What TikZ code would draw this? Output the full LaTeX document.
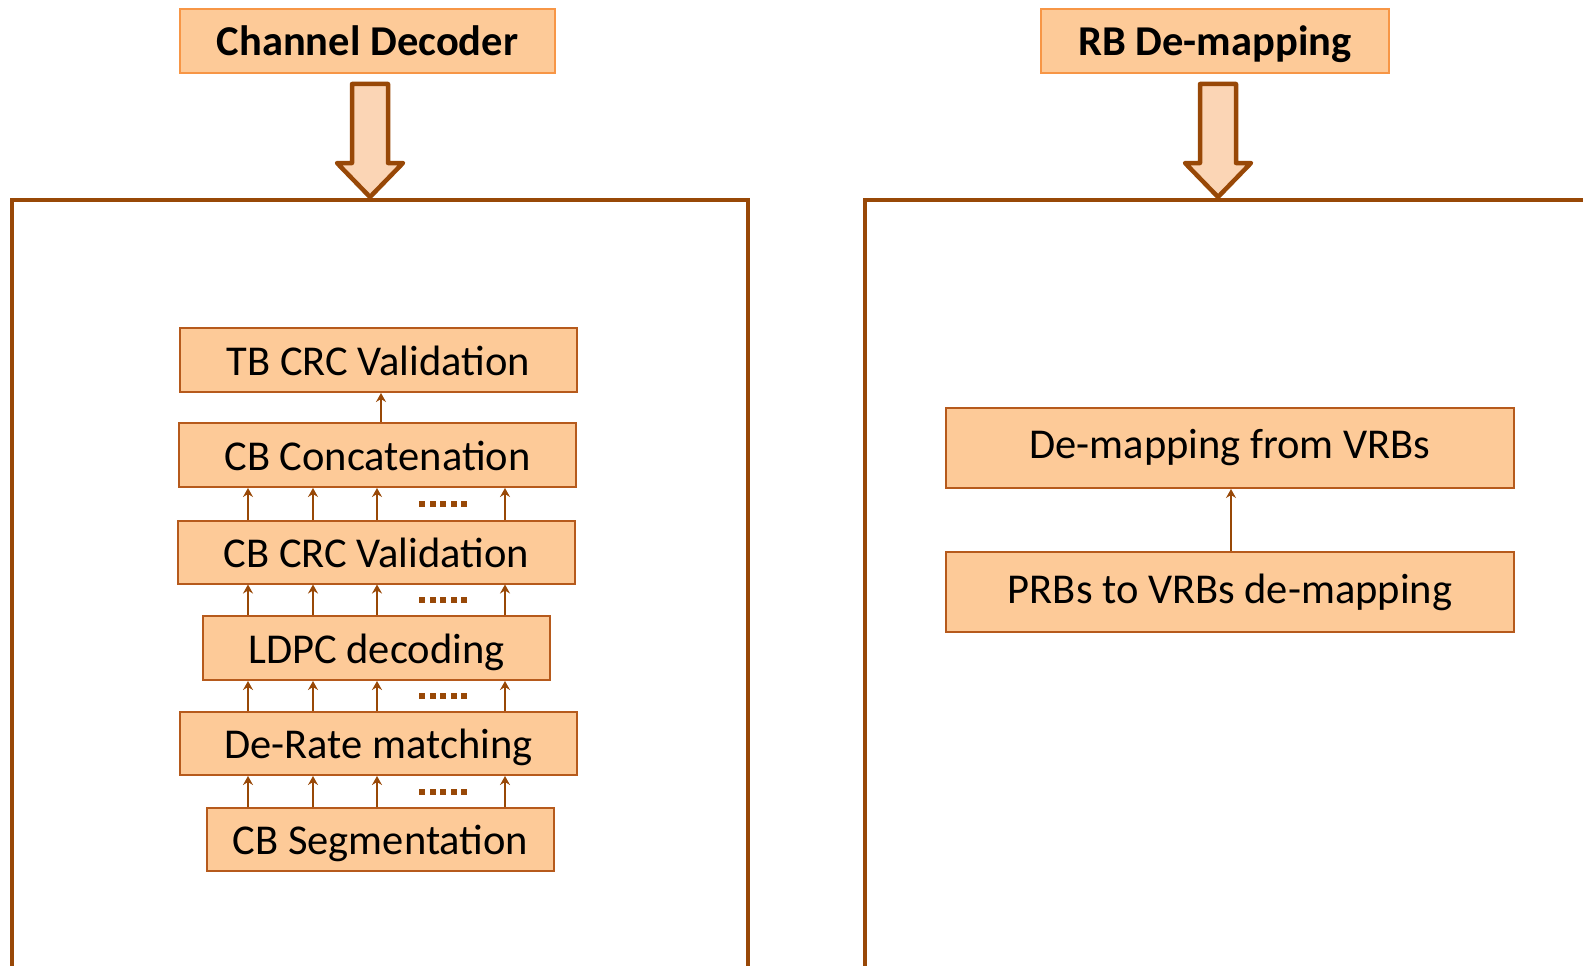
\documentclass[tikz,border=0pt]{standalone}
\usepackage{fontspec}
\setmainfont{Carlito}
\usetikzlibrary{arrows.meta,calc}

\definecolor{peach}{HTML}{FDCA98}
\definecolor{peachlight}{HTML}{FBD5B5}
\definecolor{titleedge}{HTML}{F79646}
\definecolor{boxedge}{HTML}{B65A1C}
\definecolor{frameedge}{HTML}{984807}

\tikzset{
  flatbase/.style={text height=30pt, text depth=0pt},
  titlebox/.style={draw=titleedge, fill=peach, line width=2pt, inner sep=0pt,
    minimum height=64pt, flatbase, font=\fontsize{42.5}{50}\selectfont\bfseries},
  stagebox/.style={draw=boxedge, fill=peach, line width=2pt, inner sep=0pt,
    font=\fontsize{42.5}{50}\selectfont},
  frame/.style={draw=frameedge, line width=4.5pt},
  flow/.style={draw=frameedge, line width=2.5pt,
    -{Stealth[length=9pt,width=10pt,inset=3pt]}},
  bigarrow/.style={draw=frameedge, fill=peachlight, line width=4.5pt, line join=round},
  dot/.style={fill=frameedge}
}

\begin{document}
\begin{tikzpicture}[x=1pt,y=-1pt]
\useasboundingbox (0,0) rectangle (1583,966);
\clip (0,0) rectangle (1583,966);

% outer frames (open at the bottom and right)
\draw[frame] (12,990) -- (12,200) -- (748,200) -- (748,990);
\draw[frame] (865,990) -- (865,200) -- (1600,200);

% stage titles
\node[titlebox, minimum width=375pt] (chdec) at (367.5,41) {Channel Decoder};
\node[titlebox, minimum width=348pt] (rbdemap) at (1215,41) {RB De-mapping};

% thick arrows into the frames
\foreach \cx in {370,1218}{
  \draw[bigarrow] (\cx-18,84) -- (\cx+18,84) -- (\cx+18,163) -- (\cx+33,163)
    -- (\cx,197) -- (\cx-33,163) -- (\cx-18,163) -- cycle;
}

% channel decoder chain
\begin{scope}[every node/.append style={flatbase}]
\node[stagebox, minimum width=397pt, minimum height=64pt] (tbcrc)  at (378.5,360) {TB CRC Validation};
\node[stagebox, minimum width=397pt, minimum height=64pt] (concat) at (377.5,455) {CB Concatenation};
\node[stagebox, minimum width=397pt, minimum height=63pt] (cbcrc)  at (376.5,552) {CB CRC Validation};
\node[stagebox, minimum width=347pt, minimum height=64pt] (ldpc)   at (376.5,648) {LDPC decoding};
\node[stagebox, minimum width=397pt, minimum height=63pt] (derm)   at (378.5,743.5) {De-Rate matching};
\node[stagebox, minimum width=347pt, minimum height=63pt] (cbseg)  at (380.5,839.5) {CB Segmentation};
\end{scope}

% code-block lanes
\coordinate (l1) at (248,0);
\coordinate (l2) at (313,0);
\coordinate (l3) at (377,0);
\coordinate (l4) at (505,0);
\coordinate (lt) at (381,0);
\coordinate (ld) at (419,0);

\draw[flow] (concat.north -| lt) -- (tbcrc.south -| lt);
\foreach \lo/\hi in {cbcrc/concat, ldpc/cbcrc, derm/ldpc, cbseg/derm}{
  \foreach \l in {l1,l2,l3,l4}{
    \draw[flow] (\lo.north -| \l) -- (\hi.south -| \l);
  }
  \foreach \k in {0,...,4}{
    \fill[dot] ($(\lo.north -| ld)!0.5!(\hi.south -| ld) + (\k*10.5,-3)$)
      rectangle ++(6,6);
  }
}

% RB de-mapping chain
\node[stagebox, minimum width=568pt, minimum height=80pt] (vrb) at (1230,448) {De-mapping from VRBs};
\node[stagebox, minimum width=568pt, minimum height=80pt] (prb) at (1230,592) {PRBs to VRBs de-mapping};
\coordinate (lr) at (1231,0);
\draw[flow] (prb.north -| lr) -- (vrb.south -| lr);
\end{tikzpicture}
\end{document}
